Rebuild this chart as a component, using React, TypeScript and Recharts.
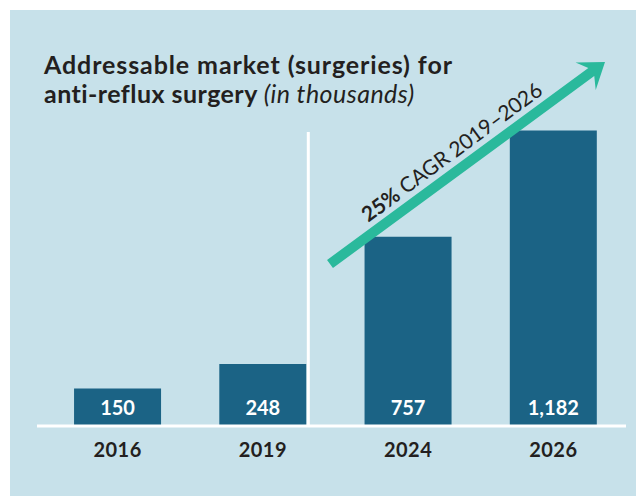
import React from "react";
import { BarChart, Bar, XAxis, YAxis, LabelList } from "recharts";

const years = ["2016", "2019", "2024", "2026"];
const surgeries = [150, 248, 757, 1182];
const dividerAfter = "2019";

const data = years.map((year, i) => ({ year, value: surgeries[i] }));

const W = 636;
const H = 496;
const FONT = "Lato, 'Open Sans', sans-serif";
const BAR = "#1b6385";
const TEAL = "#2ab99c";
const INK = "#231f20";

// bar plus, for the marked year, the thin white divider on its right
function BarShape(props: any) {
  const { x, y, width, height, payload, background } = props;
  const top = background && background.y != null ? background.y + 6 : 132;
  return (
    <g>
      <rect x={x} y={y} width={width} height={height} fill={BAR} />
      {payload.year === dividerAfter && (
        <line x1={x + width + 2} x2={x + width + 2} y1={top} y2={y + height} stroke="#ffffff" strokeWidth={3} />
      )}
    </g>
  );
}

function ValueLabel(props: any) {
  const { x, y, width, height, value } = props;
  return (
    <text
      x={x + width / 2}
      y={y + height - 19}
      textAnchor="middle"
      dominantBaseline="central"
      fill="#ffffff"
      fontFamily={FONT}
      fontWeight={700}
      fontSize={20}
    >
      {Number(value).toLocaleString("en-US")}
    </text>
  );
}

function YearTick(props: any) {
  const { x, y, payload } = props;
  return (
    <text x={x} y={y + 23} textAnchor="middle" dominantBaseline="central" fill={INK} fontFamily={FONT} fontWeight={700} fontSize={20} letterSpacing={0.5}>
      {payload.value}
    </text>
  );
}

// growth arrow: tail, tip
const tail = [330, 264];
const tip = [605, 62];
function arrowPoints() {
  const dx = tip[0] - tail[0];
  const dy = tip[1] - tail[1];
  const len = Math.sqrt(dx * dx + dy * dy);
  const d = [dx / len, dy / len];
  const n = [-d[1], d[0]];
  const p = (base: number[], a: number, b: number) => [base[0] + d[0] * a + n[0] * b, base[1] + d[1] * a + n[1] * b];
  const pts = [
    p(tail, 0, 5),
    p(tip, -17, 5),
    p(tip, -24, 17),
    tip,
    p(tip, -24, -17),
    p(tip, -17, -5),
    p(tail, 0, -5),
  ];
  return pts.map((q) => q.join(",")).join(" ");
}

export default function App() {
  const angle = (Math.atan2(tip[1] - tail[1], tip[0] - tail[0]) * 180) / Math.PI;
  return (
    <div style={{ position: "absolute", left: 0, top: 0, width: W, height: H, background: "#ffffff" }}>
      <div style={{ position: "absolute", left: 10, top: 10, width: W - 10, height: H - 10, background: "#c7e1ea" }} />
      <div style={{ position: "absolute", left: 0, top: 0 }}>
        <BarChart width={W} height={H} data={data} margin={{ top: 126, right: 10, left: 37, bottom: 0 }} barCategoryGap="20%">
          <XAxis
            dataKey="year"
            height={70}
            padding={{ left: 8, right: 0 }}
            axisLine={{ stroke: "#ffffff", strokeWidth: 3 }}
            tickLine={false}
            tickSize={0}
            tickMargin={0}
            tick={<YearTick />}
          />
          <YAxis hide width={0} domain={[0, 1200]} />
          <Bar dataKey="value" fill={BAR} shape={<BarShape />} isAnimationActive={false}>
            <LabelList dataKey="value" content={<ValueLabel />} />
          </Bar>
        </BarChart>
      </div>
      <svg width={W} height={H} style={{ position: "absolute", left: 0, top: 0, pointerEvents: "none" }}>
        <text x={44} y={74} fill={INK} fontFamily={FONT} fontSize={25} fontWeight={700} letterSpacing={0.9}>
          Addressable market (surgeries) for
        </text>
        <text x={44} y={103} fill={INK} fontFamily={FONT} fontSize={25} fontWeight={700} letterSpacing={0.45}>
          anti-reflux surgery{" "}
          <tspan fontWeight={400} fontStyle="italic">
            (in thousands)
          </tspan>
        </text>
        <polygon points={arrowPoints()} fill={TEAL} />
        <text
          x={451}
          y={151}
          transform={`rotate(${angle} 451 151)`}
          textAnchor="middle"
          dominantBaseline="central"
          fill={INK}
          fontFamily={FONT}
          fontSize={21}
        >
          <tspan fontWeight={700}>25%</tspan> CAGR 2019–2026
        </text>
      </svg>
    </div>
  );
}
